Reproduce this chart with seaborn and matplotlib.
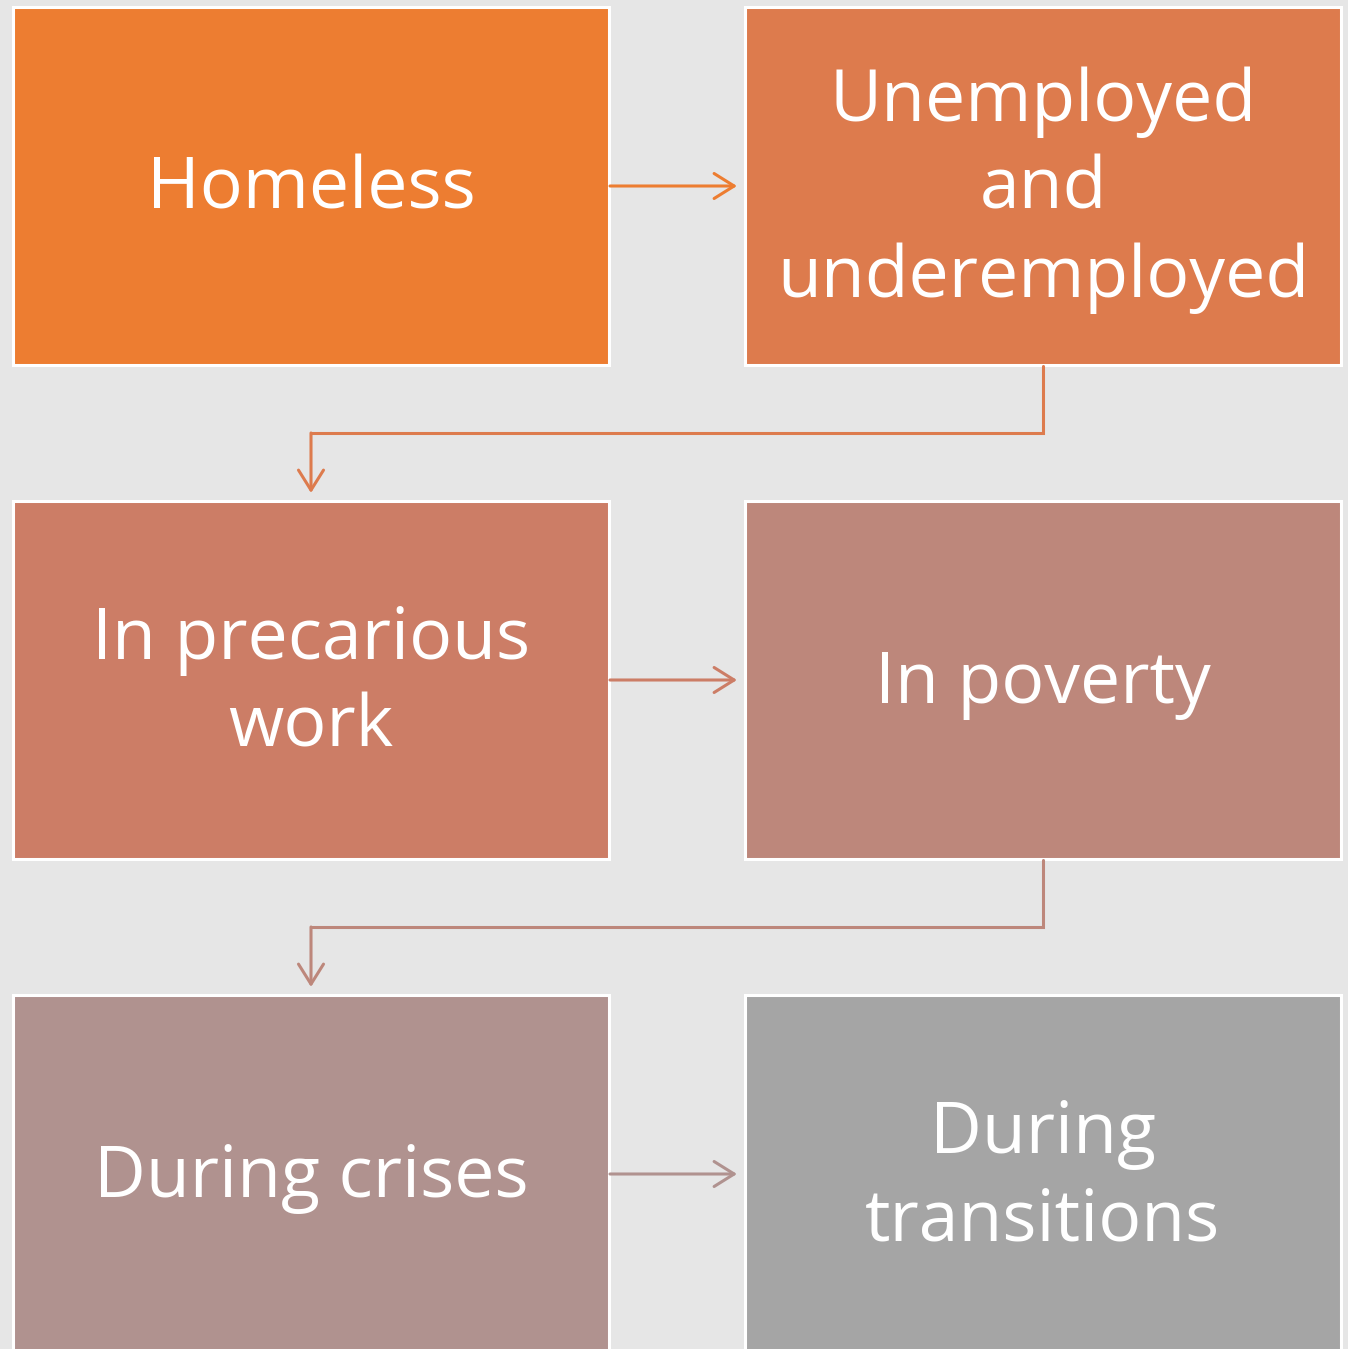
import matplotlib
matplotlib.use("Agg")
import matplotlib.pyplot as plt
import seaborn as sns
from matplotlib.patches import Rectangle

labels = ["Homeless", "Unemployed\nand\nunderemployed", "In precarious\nwork",
          "In poverty", "During crises", "During\ntransitions"]
box_colors = ["#ED7D31", "#DD7B4D", "#CC7D66", "#BD877B", "#B0928F", "#A5A5A5"]
# grid position of each step (row, column)
rows = [0, 0, 1, 1, 2, 2]
cols = [0, 1, 0, 1, 0, 1]

sns.set_theme(style="white")
plt.rcParams["font.family"] = ["Open Sans", "DejaVu Sans"]

W, H = 1348, 1349
fig = plt.figure(figsize=(W / 100, H / 100), dpi=100)
fig.patch.set_facecolor("#E6E6E6")
ax = fig.add_axes([0, 0, 1, 1])
ax.set_facecolor("#E6E6E6")
ax.set_xlim(0, W)
ax.set_ylim(H, 0)
ax.axis("off")

x0, y0 = 13, 7
bw, bh = 596, 358
col_step, row_step = 732, 494

def box_xy(i):
    return x0 + cols[i] * col_step, y0 + rows[i] * row_step

for i, (lab, c) in enumerate(zip(labels, box_colors)):
    x, y = box_xy(i)
    ax.add_patch(Rectangle((x, y), bw, bh, facecolor=c, edgecolor="white",
                           linewidth=2.2, zorder=2))
    ax.text(x + bw / 2, y + bh / 2 + 4, lab, color="white", fontsize=51.5,
            ha="center", va="center", linespacing=1.3, zorder=3)

arrow_kw = dict(arrowstyle="->,head_length=1.2,head_width=0.75", lw=2.2,
                shrinkA=0, shrinkB=0)

for i in range(len(labels) - 1):
    xa, ya = box_xy(i)
    xb, yb = box_xy(i + 1)
    c = box_colors[i]
    if rows[i] == rows[i + 1]:
        ym = ya + bh / 2
        ax.annotate("", xy=(xb - 8, ym), xytext=(xa + bw + 1, ym),
                    arrowprops=dict(color=c, **arrow_kw), zorder=4)
    else:
        xs = xa + bw / 2
        xe = xb + bw / 2
        ymid = ya + bh + (yb - ya - bh) / 2
        ax.plot([xs, xs, xe], [ya + bh + 1, ymid, ymid], color=c, lw=2.2,
                solid_joinstyle="miter", zorder=4)
        ax.annotate("", xy=(xe, yb - 8), xytext=(xe, ymid),
                    arrowprops=dict(color=c, **arrow_kw), zorder=4)

fig.savefig("out.png", dpi=100, facecolor=fig.get_facecolor())
